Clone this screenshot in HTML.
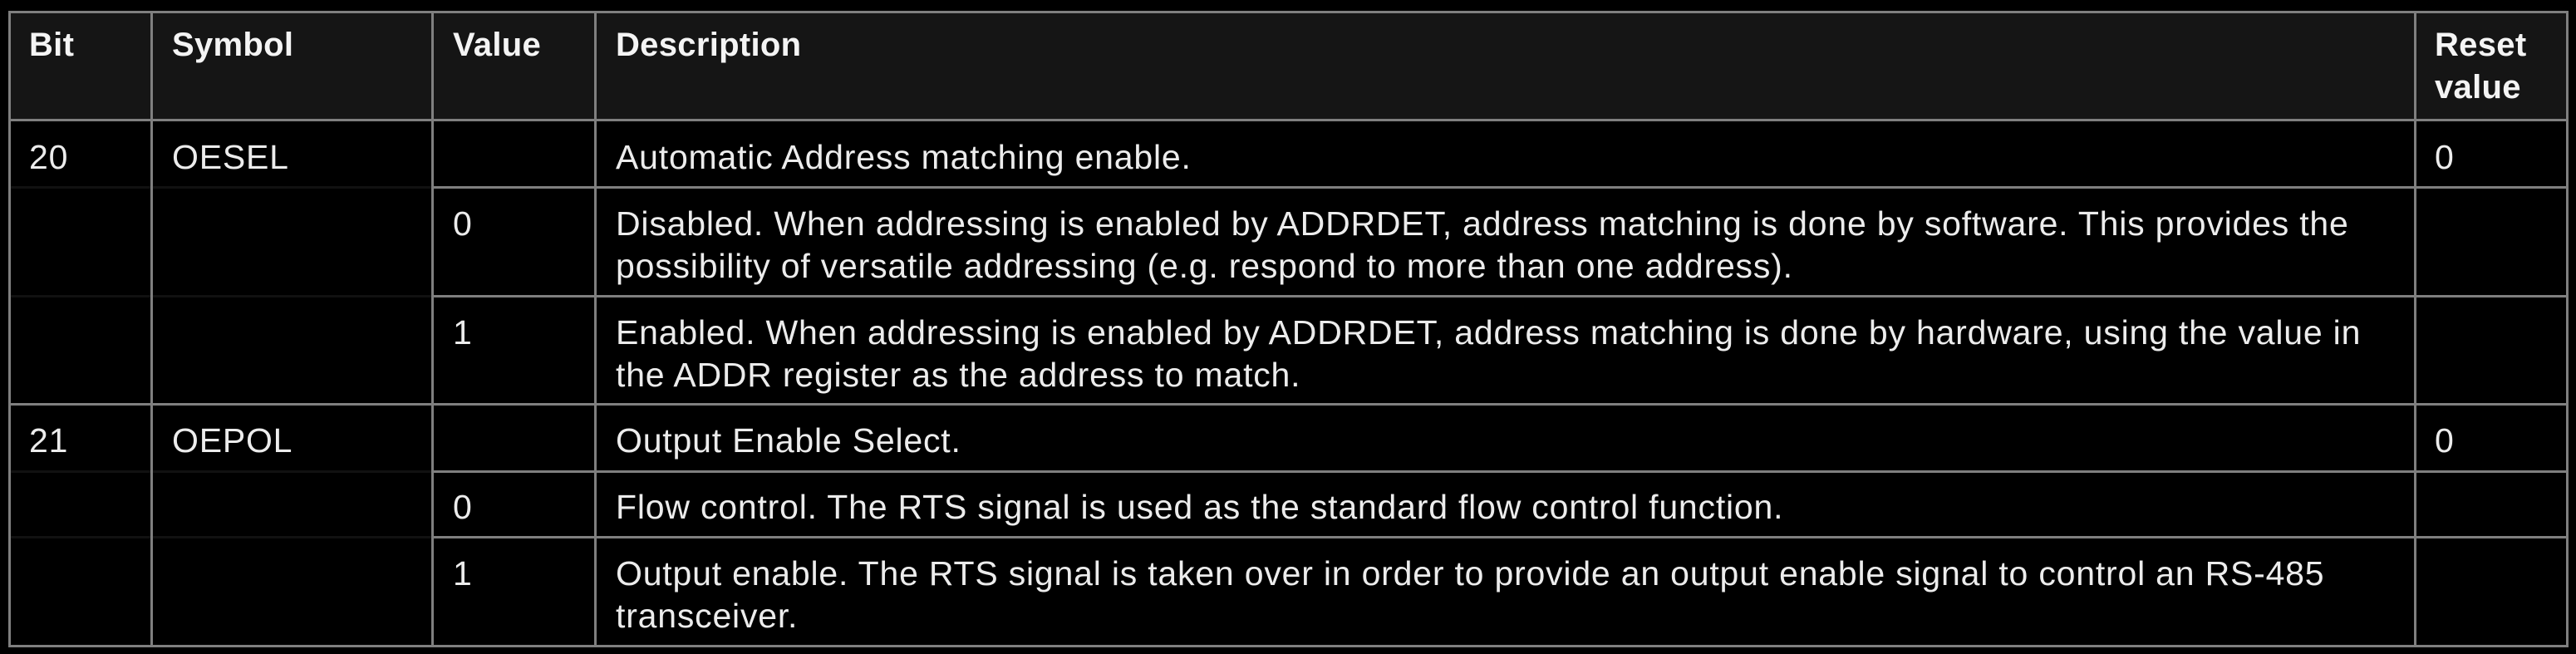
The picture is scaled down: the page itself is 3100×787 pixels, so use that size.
<!DOCTYPE html>
<html><head><meta charset="utf-8"><style>
html,body{margin:0;padding:0;background:#000;}
body{width:3100px;height:787px;position:relative;overflow:hidden;font-family:"Liberation Sans",sans-serif;color:#ececec;}
.h{position:absolute;height:3px;background:#7f7f7f;}
.v{position:absolute;width:3px;background:#7f7f7f;}
.f{position:absolute;height:3px;background:#111;}
.t{position:absolute;font-size:41px;line-height:51px;white-space:nowrap;letter-spacing:0.8px;}
.b{font-weight:bold;font-size:40px;letter-spacing:0.3px;color:#f4f4f4;}
</style></head><body>
<div style="position:absolute;left:10px;top:13px;width:3080px;height:131px;background:#151515"></div>
<div class="h" style="left:10px;top:13px;width:3081px"></div>
<div class="h" style="left:10px;top:143px;width:3081px"></div>
<div class="h" style="left:520px;top:224px;width:2571px"></div>
<div class="h" style="left:520px;top:355px;width:2571px"></div>
<div class="h" style="left:10px;top:485px;width:3081px"></div>
<div class="h" style="left:520px;top:566px;width:2571px"></div>
<div class="h" style="left:520px;top:645px;width:2571px"></div>
<div class="h" style="left:10px;top:776px;width:3081px"></div>
<div class="f" style="left:13px;top:224px;width:507px"></div>
<div class="f" style="left:13px;top:355px;width:507px"></div>
<div class="f" style="left:13px;top:566px;width:507px"></div>
<div class="f" style="left:13px;top:645px;width:507px"></div>
<div class="v" style="left:10px;top:13px;height:766px"></div>
<div class="v" style="left:181px;top:13px;height:766px"></div>
<div class="v" style="left:519px;top:13px;height:766px"></div>
<div class="v" style="left:715px;top:13px;height:766px"></div>
<div class="v" style="left:2905px;top:13px;height:766px"></div>
<div class="v" style="left:3088px;top:13px;height:766px"></div>

<div class="t b" style="left:35px;top:29px">Bit</div>
<div class="t b" style="left:207px;top:29px">Symbol</div>
<div class="t b" style="left:545px;top:29px">Value</div>
<div class="t b" style="left:741px;top:29px">Description</div>
<div class="t b" style="left:2930px;top:29px">Reset<br>value</div>

<div class="t" style="left:35px;top:164px">20</div>
<div class="t" style="left:207px;top:164px">OESEL</div>
<div class="t" style="left:741px;top:164px">Automatic Address matching enable.</div>
<div class="t" style="left:2930px;top:164px">0</div>
<div class="t" style="left:545px;top:244px">0</div>
<div class="t" style="left:741px;top:244px">Disabled. When addressing is enabled by ADDRDET, address matching is done by software. This provides the<br>possibility of versatile addressing (e.g. respond to more than one address).</div>
<div class="t" style="left:545px;top:375px">1</div>
<div class="t" style="left:741px;top:375px">Enabled. When addressing is enabled by ADDRDET, address matching is done by hardware, using the value in<br>the ADDR register as the address to match.</div>

<div class="t" style="left:35px;top:505px">21</div>
<div class="t" style="left:207px;top:505px">OEPOL</div>
<div class="t" style="left:741px;top:505px">Output Enable Select.</div>
<div class="t" style="left:2930px;top:505px">0</div>
<div class="t" style="left:545px;top:585px">0</div>
<div class="t" style="left:741px;top:585px">Flow control. The RTS signal is used as the standard flow control function.</div>
<div class="t" style="left:545px;top:665px">1</div>
<div class="t" style="left:741px;top:665px">Output enable. The RTS signal is taken over in order to provide an output enable signal to control an RS-485<br>transceiver.</div>
</body></html>
